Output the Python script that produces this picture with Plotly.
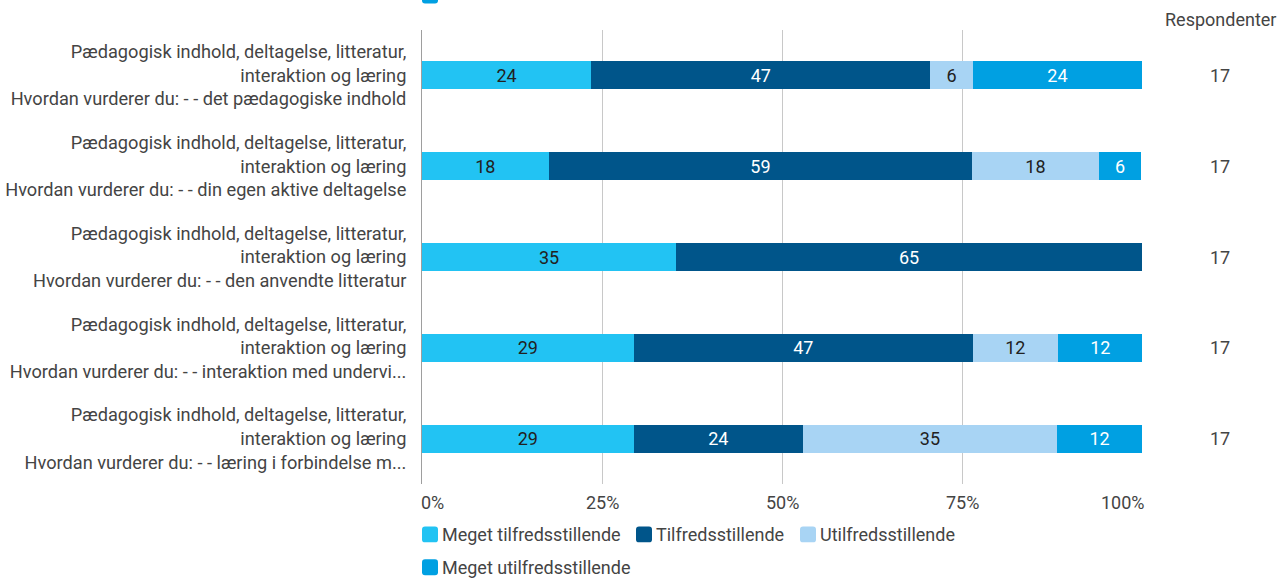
import plotly.graph_objects as go

categories = [
    "Pædagogisk indhold, deltagelse, litteratur,<br>interaktion og læring<br>Hvordan vurderer du: - - det pædagogiske indhold",
    "Pædagogisk indhold, deltagelse, litteratur,<br>interaktion og læring<br>Hvordan vurderer du: - - din egen aktive deltagelse",
    "Pædagogisk indhold, deltagelse, litteratur,<br>interaktion og læring<br>Hvordan vurderer du: - - den anvendte litteratur",
    "Pædagogisk indhold, deltagelse, litteratur,<br>interaktion og læring<br>Hvordan vurderer du: - - interaktion med undervi...",
    "Pædagogisk indhold, deltagelse, litteratur,<br>interaktion og læring<br>Hvordan vurderer du: - - læring i forbindelse m...",
]
series_names = ["Meget tilfredsstillende", "Tilfredsstillende", "Utilfredsstillende", "Meget utilfredsstillende"]
meget_tilfreds = [23.5, 17.6, 35.3, 29.4, 29.4]
tilfreds = [47.1, 58.8, 64.7, 47.1, 23.5]
utilfreds = [5.9, 17.6, None, 11.8, 35.3]
meget_utilfreds = [23.5, 5.9, None, 11.8, 11.8]
respondenter = [17, 17, 17, 17, 17]
tick_vals = [0, 25, 50, 75, 100]
tick_text = ["0%", "25%", "50%", "75%", "100%"]

colors = ["#22c3f3", "#00558a", "#a8d4f4", "#00a0e2"]
text_colors = ["#212121", "#ffffff", "#212121", "#ffffff"]
series = [meget_tilfreds, tilfreds, utilfreds, meget_utilfreds]

W, H = 1277, 578
X0, X1, Y0, Y1 = 422, 1142, 29.5, 484.5
L, R, T, B = X0, W - X1, Y0, H - Y1
pw, ph = X1 - X0, Y1 - Y0

def px(x):
    return (x - X0) / pw

def py(y):
    return (Y1 - y) / ph

FONT = "Roboto, Arial, sans-serif"
FS = 18
TXT = "#444444"

fig = go.Figure()
for name, vals, c, tc in zip(series_names, series, colors, text_colors):
    fig.add_trace(go.Bar(
        y=categories, x=vals, name=name, orientation="h",
        marker=dict(color=c, line=dict(width=0)),
        text=[None if v is None else f"{round(v)}" for v in vals],
        texttemplate="%{text}", textposition="inside", insidetextanchor="middle",
        textangle=0, constraintext="none",
        textfont=dict(color=tc, size=FS, family=FONT),
        width=0.31, showlegend=False, hoverinfo="x+name",
    ))

annotations = []
for v, t in zip(tick_vals, tick_text):
    anchor = "left" if v == 0 else ("right" if v == 100 else "center")
    xp = v / 100
    if v == 0:
        xp = px(419)
    if v == 100:
        xp = px(1147)
    annotations.append(dict(x=xp, y=py(503), xref="paper", yref="paper", text=t,
                            showarrow=False, xanchor=anchor, yanchor="middle",
                            font=dict(size=FS, color=TXT, family=FONT)))
annotations.append(dict(x=px(1220), y=py(19), xref="paper", yref="paper", text="Respondenter",
                        showarrow=False, xanchor="center", yanchor="middle",
                        font=dict(size=FS, color=TXT, family=FONT)))
for cat, r in zip(categories, respondenter):
    annotations.append(dict(x=px(1220), y=cat, xref="paper", yref="y", text=str(r),
                            showarrow=False, xanchor="center", yanchor="middle",
                            font=dict(size=FS, color=TXT, family=FONT)))

legend_pos = [(422, 535), (636, 535), (800, 535), (422, 568)]
shapes = []

def rounded_rect(x0, y0, x1, y1, r):
    A, Bx = px(x0), px(x1)
    C, D = py(y0), py(y1)
    rx, ry = r / pw, r / ph
    return (f"M{A+rx},{C} L{Bx-rx},{C} Q{Bx},{C} {Bx},{C-ry} "
            f"L{Bx},{D+ry} Q{Bx},{D} {Bx-rx},{D} L{A+rx},{D} "
            f"Q{A},{D} {A},{D+ry} L{A},{C-ry} Q{A},{C} {A+rx},{C} Z")

for (x, y), name, c in zip(legend_pos, series_names, colors):
    shapes.append(dict(type="path", xref="paper", yref="paper",
                       path=rounded_rect(x, y - 8, x + 16, y + 8, 3),
                       fillcolor=c, line=dict(width=0)))
    annotations.append(dict(x=px(x + 18), y=py(y), xref="paper", yref="paper", text=name,
                            showarrow=False, xanchor="left", yanchor="middle",
                            font=dict(size=FS, color=TXT, family=FONT)))
shapes.append(dict(type="path", xref="paper", yref="paper",
                   path=rounded_rect(422, -13, 438, 3, 3),
                   fillcolor=colors[3], line=dict(width=0)))

fig.update_layout(
    width=W, height=H,
    margin=dict(l=L, r=R, t=T, b=B, pad=0, autoexpand=False),
    barmode="stack",
    plot_bgcolor="white", paper_bgcolor="white",
    font=dict(family=FONT, size=FS, color=TXT),
    xaxis=dict(range=[0, 100], tickvals=tick_vals, showticklabels=False,
               showgrid=True, gridcolor="#c8c8c8", gridwidth=1, zeroline=False,
               showline=False, fixedrange=True, automargin=False),
    yaxis=dict(autorange="reversed", showgrid=False, showline=True, linecolor="#9e9e9e",
               linewidth=1, ticks="", ticklabelstandoff=11, automargin=False,
               tickfont=dict(size=18.2, color=TXT, family=FONT), fixedrange=True),
    annotations=annotations, shapes=shapes,
    showlegend=False,
)
fig.write_html(
    "out.html",
    config={"displayModeBar": False, "responsive": False},
    post_script="document.body.style.margin='0';document.body.style.overflow='hidden';",
)
